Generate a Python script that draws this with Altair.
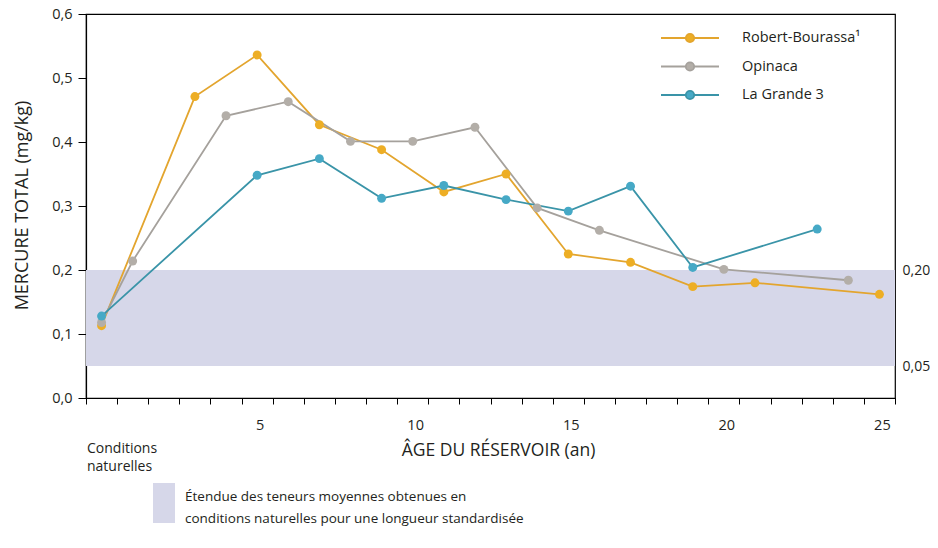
import altair as alt
import pandas as pd

# ---------------- data ----------------
series = ["Robert-Bourassa¹", "Opinaca", "La Grande 3"]
line_colors = ["#E3A52E", "#A5A19C", "#3A94A8"]
point_colors = ["#EDAE25", "#B3AEA8", "#46A9C6"]

rb_x = [0, 3, 5, 7, 9, 11, 13, 15, 17, 19, 21, 25]
rb_y = [0.113, 0.471, 0.536, 0.427, 0.388, 0.322, 0.350, 0.225, 0.212, 0.174, 0.180, 0.162]

op_x = [0, 1, 4, 6, 8, 10, 12, 14, 16, 20, 24]
op_y = [0.118, 0.214, 0.441, 0.463, 0.401, 0.401, 0.423, 0.297, 0.262, 0.201, 0.184]

lg_x = [0, 5, 7, 9, 11, 13, 15, 17, 19, 23]
lg_y = [0.128, 0.348, 0.374, 0.312, 0.332, 0.310, 0.292, 0.331, 0.204, 0.264]

band_low, band_high = 0.05, 0.20
band_label = "Étendue des teneurs moyennes obtenues en|conditions naturelles pour une longueur standardisée"

y_ticks = [0.0, 0.1, 0.2, 0.3, 0.4, 0.5, 0.6]
right_ticks = [0.05, 0.20]
x_domain = [-0.5, 25.5]
x_tick_vals = [v - 0.5 for v in range(0, 27)]

natural_label = "Conditions\nnaturelles"

# ---------------- tables ----------------
rows = []
for name, xs, ys in [(series[0], rb_x, rb_y), (series[1], op_x, op_y), (series[2], lg_x, lg_y)]:
    for xv, yv in zip(xs, ys):
        rows.append({"series": name, "x": xv, "y": yv})
df = pd.DataFrame(rows)

band_df = pd.DataFrame({"x0": [x_domain[0]], "x1": [x_domain[1]],
                        "y0": [band_low], "y1": [band_high], "label": [band_label]})
text_df = pd.DataFrame({"x": [x_domain[0]], "t": [natural_label]})

W, H = 809, 384
FONT = "Open Sans"
TXT = "#231F20"

xscale = alt.Scale(domain=x_domain, nice=False, zero=False)
yscale = alt.Scale(domain=[0, 0.6], nice=False, zero=True)

xaxis = alt.Axis(
    values=x_tick_vals,
    labelExpr="((datum.value + 0.5) % 5 == 0 && datum.value > 0) ? format(datum.value + 0.5, 'd') : ''",
    labelOffset=18, labelOverlap=False, labelFlush=False,
    tickSize=6, tickColor="black", domainColor="black", domainWidth=1.2,
    labelFontSize=14.5, labelPadding=14, labelColor=TXT, labelFont=FONT,
    grid=False,
    title="ÂGE DU RÉSERVOIR (an)", titleFontSize=17.5, titleFontWeight="normal",
    titleFont=FONT, titleColor=TXT, titleX=412, titleY=43, titleBaseline="top",
)

left_axis = alt.Axis(
    values=y_ticks,
    labelExpr="replace(format(datum.value, '.1f'), '.', ',')",
    tickSize=8, tickColor="black", domainColor="black", domainWidth=1.2,
    labelFontSize=14.5, labelPadding=6, labelColor=TXT, labelFont=FONT,
    grid=False,
    title="MERCURE TOTAL (mg/kg)", titleFontSize=18, titleFontWeight="normal",
    titleFont=FONT, titleColor=TXT, titleX=-64, titleY=191, titleBaseline="middle",
    titleAngle=270,
)

right_axis = alt.Axis(
    orient="right", values=right_ticks,
    labelExpr="replace(format(datum.value, '.2f'), '.', ',')",
    ticks=False, domain=False, grid=False, title=None,
    labelFontSize=14, labelPadding=7, labelColor=TXT, labelFont=FONT,
)

# legend symbol: short line with a dot in the middle (drawn larger than its unit box)
S = 400
hw = 2.9
r = 0.42
combo_path = (f"M{-hw},0L{-r},0M{r},0L{hw},0"
              f"M{r},0A{r},{r},0,1,1,{-r},0A{r},{r},0,1,1,{r},0Z")

series_legend = alt.Legend(
    title=None, orient="none", legendX=593, legendY=13,
    symbolType=combo_path, symbolSize=S, symbolStrokeWidth=1.8,
    labelFontSize=14.5, labelFont=FONT, labelColor=TXT, labelOffset=41,
    rowPadding=9.5, labelLimit=0,
)
band_legend = alt.Legend(
    title=None, orient="none", legendX=58, legendY=469,
    symbolType="M-0.55,-1L0.55,-1L0.55,1L-0.55,1Z", symbolSize=1600,
    symbolStrokeWidth=0, symbolFillColor="#D6D7E9",
    labelExpr="''", labelLimit=0,
    labelFontSize=13.5, labelFont=FONT, labelColor=TXT, labelOffset=1,
)

band = alt.Chart(band_df).mark_rect(color="#D6D7E9").encode(
    x=alt.X("x0:Q", scale=xscale, axis=xaxis),
    x2="x1:Q",
    y=alt.Y("y0:Q", scale=yscale, axis=right_axis),
    y2="y1:Q",
    opacity=alt.Opacity("label:N", scale=alt.Scale(range=[1]), legend=band_legend),
)

band_text = alt.Chart(band_df).mark_text(
    align="left", baseline="top", fontSize=13.5, lineHeight=22, lineBreak="|",
    font=FONT, color=TXT,
).encode(
    x=alt.value(99),
    y=alt.value(H + 92),
    text="label:N",
)

lines = alt.Chart(df).mark_line(strokeWidth=1.8).encode(
    x=alt.X("x:Q", scale=xscale, axis=xaxis),
    y=alt.Y("y:Q", scale=yscale, axis=left_axis),
    color=alt.Color("series:N", scale=alt.Scale(domain=series, range=line_colors), legend=series_legend),
    order="x:Q",
)

points = alt.Chart(df).mark_point(filled=True, size=80, opacity=1).encode(
    x=alt.X("x:Q", scale=xscale, axis=xaxis),
    y=alt.Y("y:Q", scale=yscale, axis=None),
    fill=alt.Fill("series:N", scale=alt.Scale(domain=series, range=point_colors), legend=series_legend),
)

natural = alt.Chart(text_df).mark_text(
    align="left", baseline="top", fontSize=14, lineHeight=18, lineBreak="\n",
    font=FONT, color=TXT, dx=1,
).encode(
    x=alt.X("x:Q", scale=xscale, axis=xaxis),
    y=alt.value(H + 44),
    text="t:N",
)

chart = alt.layer(band, lines, points, natural, band_text).resolve_axis(y="independent").properties(
    width=W, height=H,
    autosize=alt.AutoSizeParams(type="none"),
    padding={"left": 78, "top": 6, "right": 35, "bottom": 130},
    background="white",
).configure_view(stroke="black", strokeWidth=1.2)

chart.save("out.html", embed_options={"renderer": "svg", "actions": False})
